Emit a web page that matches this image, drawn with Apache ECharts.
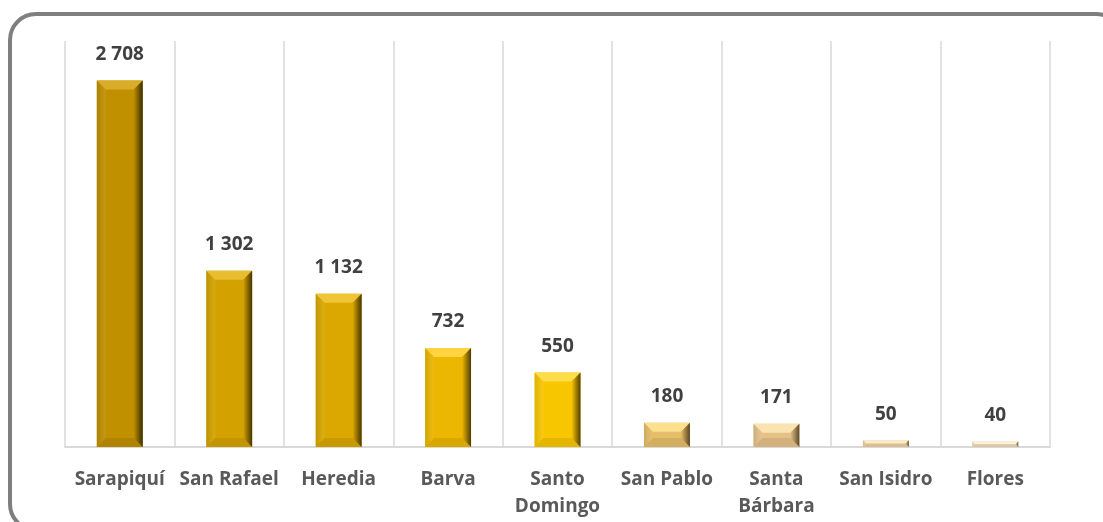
<!DOCTYPE html>
<html>
<head>
<meta charset="utf-8">
<style>
  html, body { margin: 0; padding: 0; background: #fff; }
  #chart { width: 1103px; height: 522px; }
</style>
<script src="https://cdn.jsdelivr.net/npm/echarts@6/dist/echarts.min.js"></script>
</head>
<body>
<div id="chart"></div>
<script>
const cantones = ['Sarapiquí', 'San Rafael', 'Heredia', 'Barva', 'Santo\nDomingo', 'San Pablo', 'Santa\nBárbara', 'San Isidro', 'Flores'];
const valores = [2708, 1302, 1132, 732, 550, 180, 171, 50, 40];

// one gold shade per bar: [main, top bevel, right edge]
const colores = [
    ['#c09000', '#d9ad2a', '#3a2c00'],
    ['#d4a200', '#e8bd30', '#453400'],
    ['#daa800', '#f0c535', '#473600'],
    ['#ebb700', '#ffd440', '#4d3b00'],
    ['#f8c600', '#ffdc4a', '#524000'],
    ['#e6bd68', '#fbe08e', '#5a4520'],
    ['#e4c187', '#fae3b0', '#5c4a2c'],
    ['#ecd09c', '#fcebc8', '#5c4c30'],
    ['#eed8b2', '#fdf0d8', '#5c4e38']
];

var chart = echarts.init(document.getElementById('chart'));

function fmt(v) {
    return String(v).replace(/\B(?=(\d{3})+(?!\d))/g, ' ');
}

function renderBar(params, api) {
    var i = api.value(0);
    var v = api.value(1);
    var top = api.coord([i, v]);
    var base = api.coord([i, 0]);
    var w = api.size([1, 0])[0] * 0.42;
    var x0 = top[0] - w / 2, x1 = top[0] + w / 2;
    var y0 = top[1], y1 = base[1];
    var h = y1 - y0;
    var b = Math.min(9, h / 2);
    var c = colores[params.dataIndex];
    return {
        type: 'group',
        children: [
            { type: 'rect', shape: { x: x0, y: y0, width: w, height: h }, style: { fill: c[0] } },
            {
                type: 'polygon',
                shape: { points: [[x0, y0], [x1, y0], [x1 - b, y0 + b], [x0 + b, y0 + b]] },
                style: { fill: c[1] }
            },
            {
                type: 'polygon',
                shape: { points: [[x0, y0], [x0 + b, y0 + b], [x0 + b, y1 - b], [x0, y1]] },
                style: {
                    fill: new echarts.graphic.LinearGradient(0, 0, 1, 0, [
                        { offset: 0, color: 'rgba(0,0,0,0.10)' },
                        { offset: 1, color: 'rgba(255,255,255,0.08)' }
                    ])
                }
            },
            {
                type: 'polygon',
                shape: { points: [[x1, y0], [x1 - b, y0 + b], [x1 - b, y1 - b], [x1, y1]] },
                style: {
                    fill: new echarts.graphic.LinearGradient(0, 0, 1, 0, [
                        { offset: 0, color: c[0] },
                        { offset: 1, color: c[2] }
                    ])
                }
            },
            {
                type: 'polygon',
                shape: { points: [[x0, y1], [x1, y1], [x1 - b, y1 - b], [x0 + b, y1 - b]] },
                style: { fill: 'rgba(0,0,0,0.08)' }
            },
            {
                type: 'text',
                style: {
                    x: top[0], y: y0 - 26,
                    text: fmt(v),
                    align: 'center', verticalAlign: 'middle',
                    fill: '#404040',
                    font: 'bold 19px "Open Sans", sans-serif'
                }
            }
        ]
    };
}

option = {
    backgroundColor: '#fff',
    animation: false,
    graphic: [{
        type: 'rect',
        shape: { x: 10, y: 14, width: 1112, height: 516, r: 26 },
        style: { fill: 'none', stroke: '#7f7f7f', lineWidth: 4 },
        z: 10
    }],
    grid: { left: 65, right: 53, top: 41, bottom: 75 },
    xAxis: {
        type: 'category',
        data: cantones,
        axisTick: { show: false },
        axisLine: { show: true, lineStyle: { color: '#d9d9d9', width: 2 } },
        splitLine: { show: true, interval: 0, lineStyle: { color: '#d9d9d9', width: 1.5 } },
        axisLabel: {
            interval: 0,
            margin: 19,
            color: '#595959',
            fontSize: 19,
            fontWeight: 'bold',
            fontFamily: '"Open Sans", sans-serif',
            lineHeight: 27
        }
    },
    yAxis: {
        type: 'value',
        min: 0,
        max: 3000,
        show: false,
        splitLine: { show: false }
    },
    series: [{
        type: 'custom',
        renderItem: renderBar,
        data: valores.map(function (v, i) { return [i, v]; })
    }]
};

chart.setOption(option);

window.onresize = function () {
    chart.resize();
};
</script>
</body>
</html>
